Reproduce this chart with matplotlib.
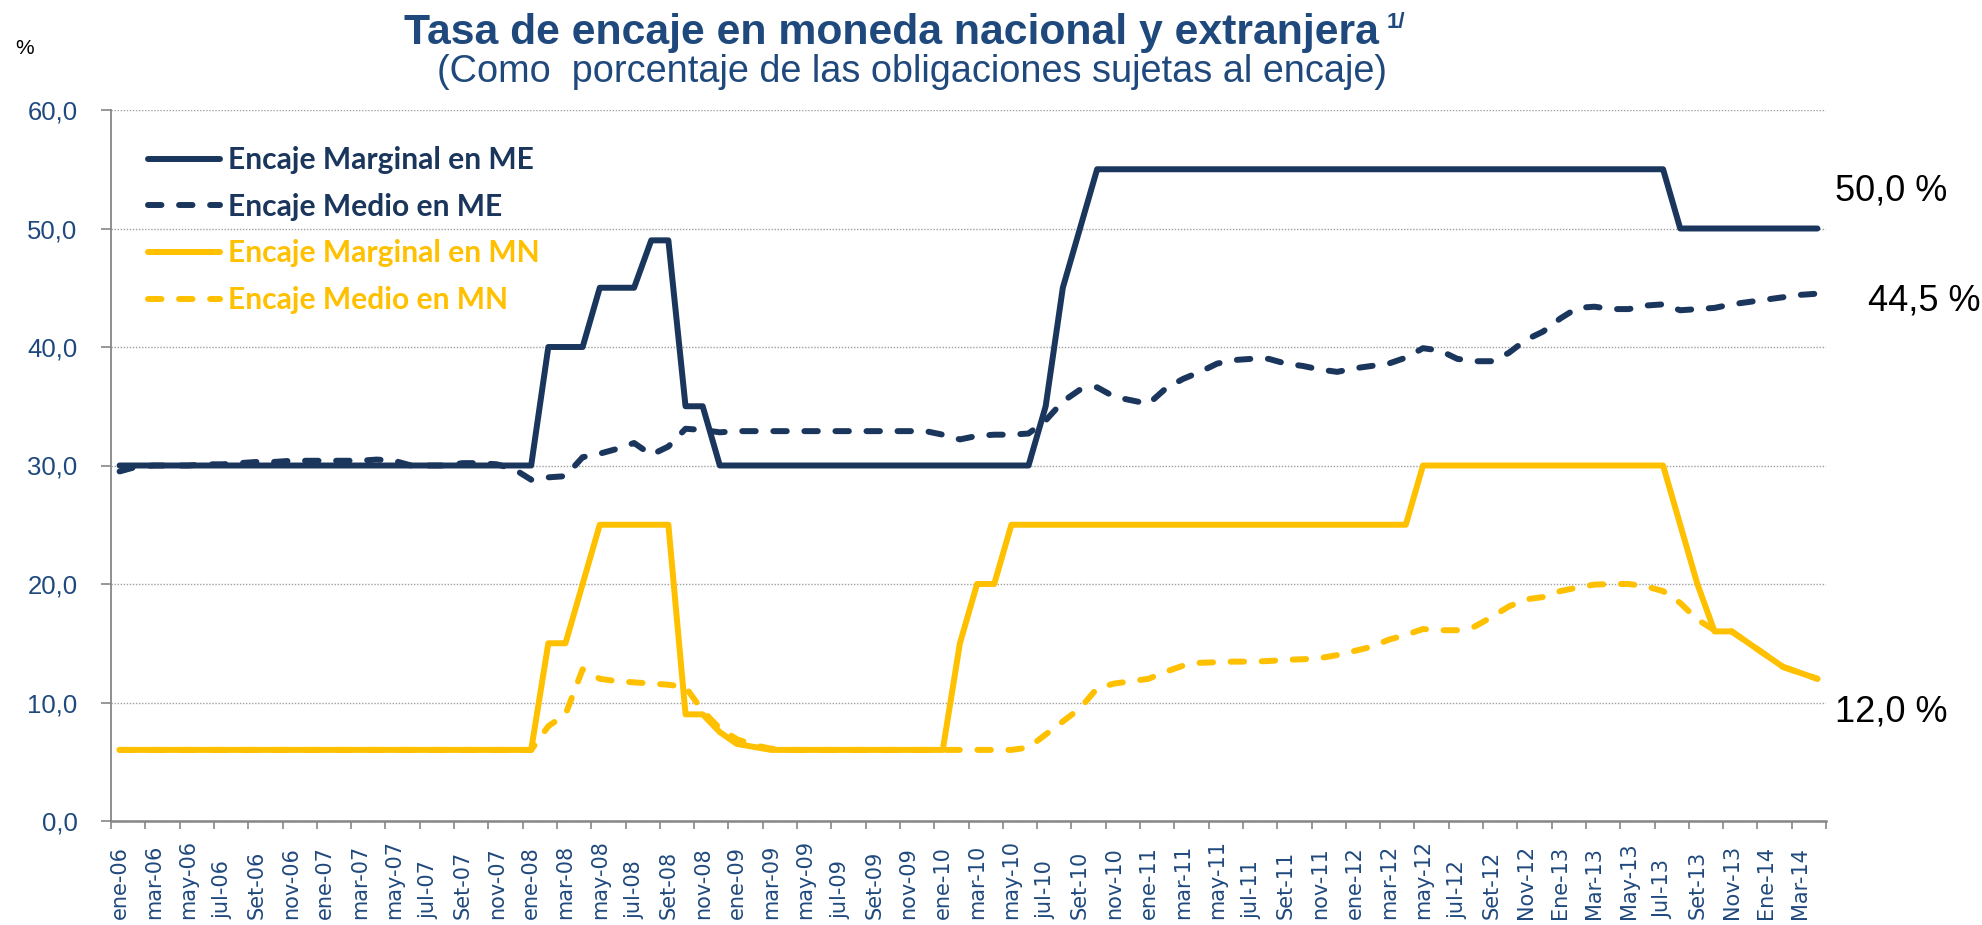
import matplotlib
matplotlib.use("Agg")
import matplotlib.pyplot as plt
import numpy as np
from matplotlib.font_manager import FontProperties

# ---------------- data (monthly, ene-06 ... abr-14) ----------------
series_names = ["Encaje Marginal en ME", "Encaje Medio en ME",
                "Encaje Marginal en MN", "Encaje Medio en MN"]

me_marginal = [30, 30, 30, 30, 30, 30, 30, 30, 30, 30, 30, 30,
               30, 30, 30, 30, 30, 30, 30, 30, 30, 30, 30, 30,
               30, 40, 40, 40, 45, 45, 45, 49, 49, 35, 35, 30,
               30, 30, 30, 30, 30, 30, 30, 30, 30, 30, 30, 30,
               30, 30, 30, 30, 30, 30, 35, 45, 50, 55, 55, 55,
               55, 55, 55, 55, 55, 55, 55, 55, 55, 55, 55, 55,
               55, 55, 55, 55, 55, 55, 55, 55, 55, 55, 55, 55,
               55, 55, 55, 55, 55, 55, 55, 50, 50, 50, 50, 50,
               50, 50, 50, 50]

me_medio = [29.5, 29.9, 30.0, 30.0, 30.0, 30.1, 30.1, 30.2, 30.3, 30.3, 30.4, 30.4,
            30.4, 30.4, 30.4, 30.5, 30.4, 30.0, 30.0, 30.0, 30.2, 30.2, 30.1, 29.7,
            28.8, 29.0, 29.1, 30.7, 31.0, 31.4, 31.9, 30.9, 31.6, 33.1, 33.0, 32.8,
            32.9, 32.9, 32.9, 32.9, 32.9, 32.9, 32.9, 32.9, 32.9, 32.9, 32.9, 32.9,
            32.6, 32.2, 32.5, 32.6, 32.6, 32.7, 33.8, 35.4, 36.4, 36.6, 35.8, 35.5,
            35.2, 36.5, 37.3, 37.9, 38.6, 38.9, 39.0, 39.0, 38.6, 38.4, 38.1, 37.9,
            38.2, 38.4, 38.6, 39.1, 39.9, 39.7, 39.0, 38.8, 38.8, 39.5, 40.6, 41.3,
            42.4, 43.3, 43.4, 43.2, 43.2, 43.5, 43.6, 43.1, 43.2, 43.3, 43.6, 43.8,
            44.0, 44.2, 44.4, 44.5]

mn_marginal = [6, 6, 6, 6, 6, 6, 6, 6, 6, 6, 6, 6,
               6, 6, 6, 6, 6, 6, 6, 6, 6, 6, 6, 6,
               6, 15, 15, 20, 25, 25, 25, 25, 25, 9, 9, 7.5,
               6.5, 6.25, 6, 6, 6, 6, 6, 6, 6, 6, 6, 6,
               6, 15, 20, 20, 25, 25, 25, 25, 25, 25, 25, 25,
               25, 25, 25, 25, 25, 25, 25, 25, 25, 25, 25, 25,
               25, 25, 25, 25, 30, 30, 30, 30, 30, 30, 30, 30,
               30, 30, 30, 30, 30, 30, 30, 25, 20, 16, 16, 15,
               14, 13, 12.5, 12]

mn_medio = [6.0, 6.0, 6.0, 6.0, 6.0, 6.0, 6.0, 6.0, 6.0, 6.0, 6.0, 6.0,
            6.0, 6.0, 6.0, 6.0, 6.0, 6.0, 6.0, 6.0, 6.0, 6.0, 6.0, 6.0,
            6.0, 8.0, 9.0, 12.8, 12.0, 11.8, 11.7, 11.6, 11.5, 11.3, 9.3, 7.8,
            6.9, 6.4, 6.1, 6.0, 6.0, 6.0, 6.0, 6.0, 6.0, 6.0, 6.0, 6.0,
            6.0, 6.0, 6.0, 6.0, 6.0, 6.2, 7.3, 8.4, 9.5, 11.2, 11.6, 11.8,
            12.0, 12.6, 13.1, 13.35, 13.4, 13.45, 13.45, 13.5, 13.6, 13.65, 13.75, 14.0,
            14.35, 14.7, 15.3, 15.7, 16.2, 16.1, 16.1, 16.4, 17.2, 18.1, 18.7, 18.9,
            19.4, 19.7, 19.95, 20.0, 20.0, 19.8, 19.4, 18.4, 17.0, 16.1, 16.0, 15.0,
            14.0, 13.0, 12.5, 12.0]

tick_labels = ["ene-06", "mar-06", "may-06", "jul-06", "Set-06", "nov-06",
               "ene-07", "mar-07", "may-07", "jul-07", "Set-07", "nov-07",
               "ene-08", "mar-08", "may-08", "jul-08", "Set-08", "nov-08",
               "ene-09", "mar-09", "may-09", "jul-09", "Set-09", "nov-09",
               "ene-10", "mar-10", "may-10", "jul-10", "Set-10", "nov-10",
               "ene-11", "mar-11", "may-11", "jul-11", "Set-11", "nov-11",
               "ene-12", "mar-12", "may-12", "jul-12", "Set-12", "Nov-12",
               "Ene-13", "Mar-13", "May-13", "Jul-13", "Set-13", "Nov-13",
               "Ene-14", "Mar-14"]

y_ticks = [0, 10, 20, 30, 40, 50, 60]
y_tick_labels = ["0,0", "10,0", "20,0", "30,0", "40,0", "50,0", "60,0"]

title = "Tasa de encaje en moneda nacional y extranjera"
title_note = "1/"
subtitle = "(Como  porcentaje de las obligaciones sujetas al encaje)"

# ---------------- style ----------------
W, H, DPI = 1982, 925, 100
NAVY = "#1B365D"
GOLD = "#FFC000"
TXT = "#1F497D"
GRAY = "#868686"
LW = 4.3
DASH = (0, (2.25, 2.95))

fig = plt.figure(figsize=(W / DPI, H / DPI), dpi=DPI)
ax = fig.add_axes([111 / W, 1 - 821 / H, (1826 - 111) / W, (821 - 110) / H])

n = len(me_marginal)
x = np.arange(n)

ax.plot(x, me_marginal, color=NAVY, lw=LW, solid_capstyle="round",
        solid_joinstyle="round", label=series_names[0], zorder=3)
ax.plot(x, me_medio, color=NAVY, lw=LW, ls=DASH, dash_capstyle="round",
        dash_joinstyle="round", label=series_names[1], zorder=3)
ax.plot(x, mn_marginal, color=GOLD, lw=LW, solid_capstyle="round",
        solid_joinstyle="round", label=series_names[2], zorder=3)
ax.plot(x, mn_medio, color=GOLD, lw=LW, ls=DASH, dash_capstyle="round",
        dash_joinstyle="round", label=series_names[3], zorder=3)

ax.set_xlim(-0.5, n - 0.5)
ax.set_ylim(0, 60)

# y axis
ax.set_yticks(y_ticks)
ax.set_yticklabels(y_tick_labels, family="Liberation Sans", fontsize=18.5, color=TXT)
ax.tick_params(axis="y", direction="out", length=7, width=1.2, color=GRAY, pad=17)
ax.yaxis.grid(True, linestyle=(0, (1, 1.2)), color="#A0A0A0", lw=1.0)
ax.set_axisbelow(True)

# x axis: ticks on category boundaries every 2 months, labels at category centers
ax.set_xticks(np.arange(-0.5, n, 2))
ax.set_xticklabels([])
ax.tick_params(axis="x", which="major", direction="out", length=6, width=1.2, color=GRAY)
ax.set_xticks(np.arange(0, n, 2), minor=True)
ax.set_xticklabels(tick_labels, minor=True, rotation=90, va="bottom", ha="center",
                   family="DejaVu Sans", fontsize=15, color=TXT)
ax.tick_params(axis="x", which="minor", length=0, pad=70.5)

for s in ["top", "right"]:
    ax.spines[s].set_visible(False)
ax.spines["left"].set_color(GRAY)
ax.spines["left"].set_linewidth(1.3)
ax.spines["bottom"].set_color(GRAY)
ax.spines["bottom"].set_linewidth(1.8)

# legend
leg = ax.legend(loc="upper left", bbox_to_anchor=(0.0216, 0.949), frameon=False,
                prop=FontProperties(family="Lato", weight="bold", size=21.6),
                handlelength=2.4, handletextpad=0.27, labelspacing=0.62,
                borderpad=0, borderaxespad=0)
for t, c in zip(leg.get_texts(), [NAVY, NAVY, GOLD, GOLD]):
    t.set_color(c)

# titles
t1 = fig.text(891 / W, 1 - 33 / H, title, ha="center", va="center",
              family="Liberation Sans", fontweight="bold", fontsize=30.8, color=TXT)
fig.canvas.draw()
bb = t1.get_window_extent()
fig.text((bb.x1 + 8) / W, 1 - 22 / H, title_note, ha="left", va="center",
         family="Liberation Sans", fontweight="bold", fontsize=16, color=TXT)
fig.text(912 / W, 1 - 72.5 / H, subtitle, ha="center", va="center",
         family="Liberation Sans", fontsize=27.3, color=TXT)
fig.text(15 / W, 1 - 48 / H, "%", ha="left", va="center",
         family="Liberation Sans", fontsize=15, color="black")

# end-value labels
def fmt(v):
    return f"{v:.1f} %".replace(".", ",")

fig.text(1835 / W, 1 - 191 / H, fmt(me_marginal[-1]), ha="left", va="center",
         family="Liberation Sans", fontsize=26, color="black")
fig.text(1868 / W, 1 - 301 / H, fmt(me_medio[-1]), ha="left", va="center",
         family="Liberation Sans", fontsize=26, color="black")
fig.text(1835 / W, 1 - 712 / H, fmt(mn_marginal[-1]), ha="left", va="center",
         family="Liberation Sans", fontsize=26, color="black")

fig.savefig("out.png", dpi=DPI)
